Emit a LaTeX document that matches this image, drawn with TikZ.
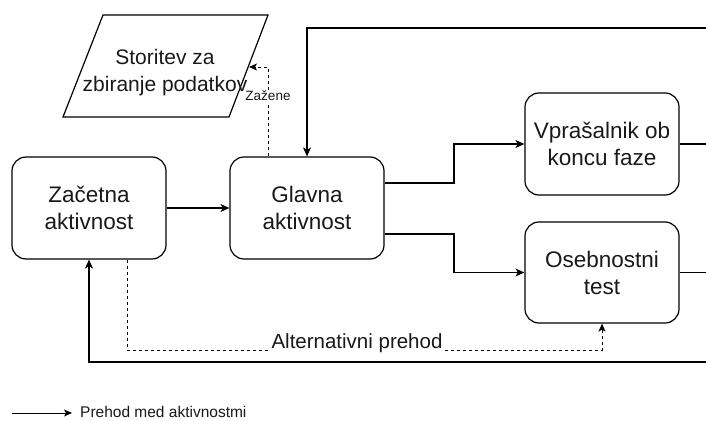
\documentclass[tikz,border=0pt]{standalone}
\usepackage{fontspec}
\setmainfont{Liberation Sans}
\usetikzlibrary{arrows.meta,calc}
\begin{document}
\begin{tikzpicture}[x=1pt,y=-1pt,
  box/.style={draw, line width=1.2pt, rounded corners=14pt, minimum width=154pt,
    minimum height=102pt, align=center, inner sep=0pt,
    font=\fontsize{22.5}{27}\selectfont, text=black!90},
  conn/.style={line width=1.2pt, -{Stealth[length=9pt,width=8pt,inset=2.5pt]}},
  plain/.style={line width=1.2pt},
  dconn/.style={line width=1pt, dash pattern=on 3pt off 3pt,
    -{Stealth[length=8pt,width=7pt,inset=2pt]}},
  lbl/.style={fill=white, inner sep=1pt, text=black!90}]
\useasboundingbox (0,0) rectangle (706,420);

% nodes
\node[box] (zac) at (89,208) {Začetna\\aktivnost};
\node[box] (gla) at (307,208) {Glavna\\aktivnost};
\node[box] (vpr) at (602,144) {Vprašalnik ob\\koncu faze};
\node[box, minimum height=101pt] (ose) at (602,272.5) {Osebnostni\\test};

% parallelogram (data store)
\draw[line width=1.2pt] (103,15) -- (268,15) -- (229,117) -- (63,117) -- cycle;
\node[align=center, inner sep=0pt, font=\fontsize{21}{27}\selectfont, text=black!90]
  (sto) at (165,73) {Storitev za\\zbiranje podatkov};
\coordinate (stoR) at (249,67);

% coordinates at the picture border
\coordinate (topR) at (706,28);
\coordinate (botR) at (706,362);
\coordinate (vprR) at (706,144);
\coordinate (oseR) at (706,272.5);

% solid connectors
\draw[conn] (zac.east) -- (gla.west);
\draw[conn] ([yshift=25pt]gla.east) -- (454,183) |- (vpr.west);
\draw[conn] ([yshift=-26pt]gla.east) -- (454,234) |- (ose.west);
\draw[plain] (vpr.east) -- (vprR);
\draw[plain] (ose.east) -- (oseR);
\draw[conn] (topR) -| (gla.north);
\draw[conn] (botR) -| (zac.south);

% dashed connectors
\draw[dconn] ([xshift=-39pt]gla.north) |- (stoR);
\node[lbl, font=\fontsize{13.5}{16}\selectfont] (zaz) at (268,96) {Zažene};
\draw[dconn] ([xshift=38pt]zac.south) |- (ose.south |- 0,350) -- (ose.south);
\node[lbl, font=\fontsize{20.5}{24}\selectfont] (alt) at (357,343) {Alternativni prehod};

% legend
\coordinate (leg0) at (12,413);
\node[anchor=west, inner sep=0pt, font=\fontsize{15.5}{18}\selectfont, text=black!90]
  (legt) at (80,411.5) {Prehod med aktivnostmi};
\draw[line width=1pt, -{Stealth[length=8pt,width=7pt,inset=2pt]}] (leg0) -- ([xshift=-8pt]legt.west |- leg0);
\end{tikzpicture}
\end{document}
